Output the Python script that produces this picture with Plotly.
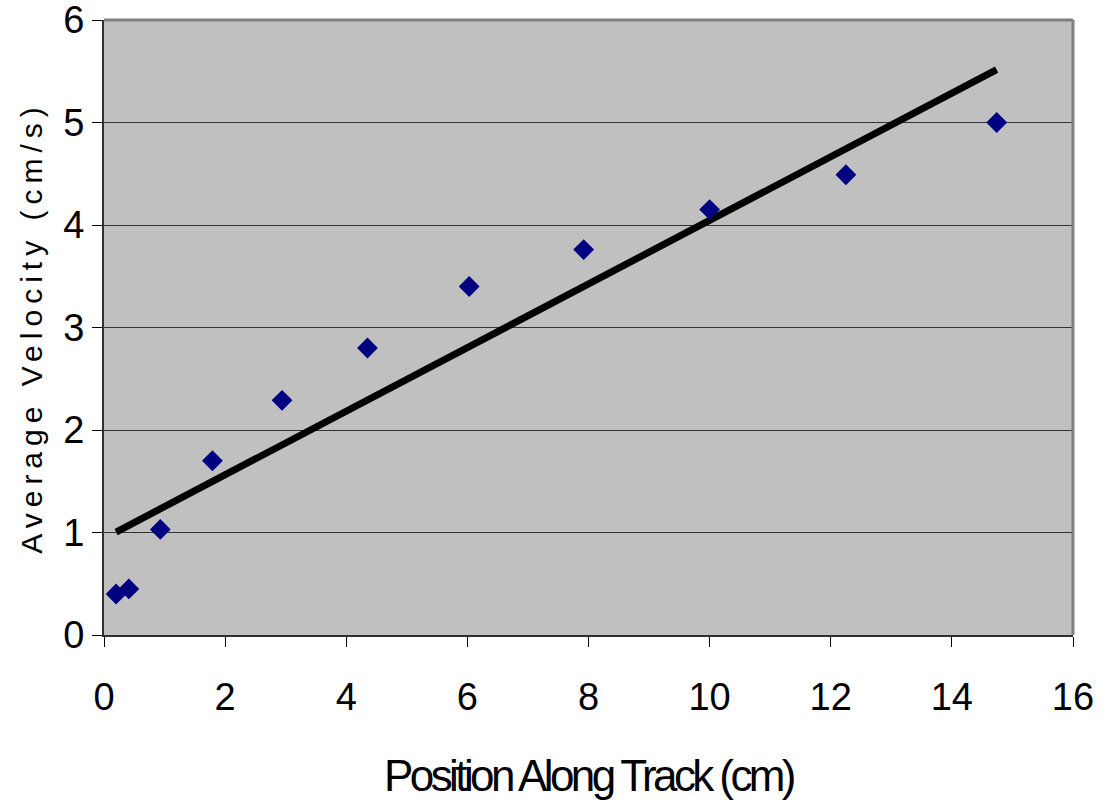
import numpy as np
import plotly.graph_objects as go

position_cm = [0.2, 0.41, 0.93, 1.79, 2.94, 4.35, 6.03, 7.92, 10.0, 12.25, 14.74]
avg_velocity = [0.40, 0.45, 1.03, 1.70, 2.29, 2.80, 3.40, 3.76, 4.15, 4.49, 5.00]
x_ticks = [0, 2, 4, 6, 8, 10, 12, 14, 16]
y_ticks = [0, 1, 2, 3, 4, 5, 6]

slope, intercept = np.polyfit(position_cm, avg_velocity, 1)
trend_x = [min(position_cm), max(position_cm)]
trend_y = [slope * x + intercept for x in trend_x]

fig = go.Figure()
fig.add_trace(go.Scatter(
    x=trend_x, y=trend_y, mode="lines",
    line=dict(color="black", width=7), showlegend=False, hoverinfo="skip"))
fig.add_trace(go.Scatter(
    x=position_cm, y=avg_velocity, mode="markers",
    marker=dict(symbol="diamond", size=16, color="#000080", line=dict(width=0)),
    showlegend=False))

font_family = "Liberation Sans, Arial, sans-serif"
fig.update_layout(
    width=1106, height=808,
    margin=dict(l=104, r=33, t=20, b=173, autoexpand=False),
    paper_bgcolor="white", plot_bgcolor="#C0C0C0",
    font=dict(family=font_family, color="black"),
    xaxis=dict(range=[0, 16], tickvals=x_ticks, automargin=False,
               showgrid=False, zeroline=False,
               showline=True, linecolor="#303030", linewidth=2,
               ticks="outside", ticklen=10, tickcolor="black", tickwidth=1,
               tickfont=dict(size=38), ticklabelstandoff=17,
               ticklabeloverflow="allow",
               title=dict(text="Position Along Track (cm)",
                          font=dict(size=44), standoff=44)),
    yaxis=dict(range=[0, 6], tickvals=y_ticks, automargin=False,
               showgrid=True, gridcolor="#333333", gridwidth=1, zeroline=False,
               showline=True, linecolor="#303030", linewidth=2,
               ticks="outside", ticklen=10, tickcolor="black", tickwidth=1,
               tickfont=dict(size=38), ticklabelstandoff=0,
               ticklabeloverflow="allow",
               title=dict(text="Average Velocity (cm/s)",
                          font=dict(size=30), standoff=12)),
    shapes=[
        dict(type="line", xref="x domain", yref="y domain", x0=0, x1=1, y0=1, y1=1,
             line=dict(color="#808080", width=3)),
        dict(type="line", xref="x domain", yref="y domain", x0=1, x1=1, y0=0, y1=1,
             line=dict(color="#808080", width=3)),
    ],
)

post = """
var st = document.createElement('style');
st.textContent = 'body{margin:0 !important;} .xtitle{letter-spacing:-3.6px !important;} .ytitle{letter-spacing:6px !important;}';
document.head.appendChild(st);
"""
fig.write_html("out.html", post_script=post, config={"displayModeBar": False})
